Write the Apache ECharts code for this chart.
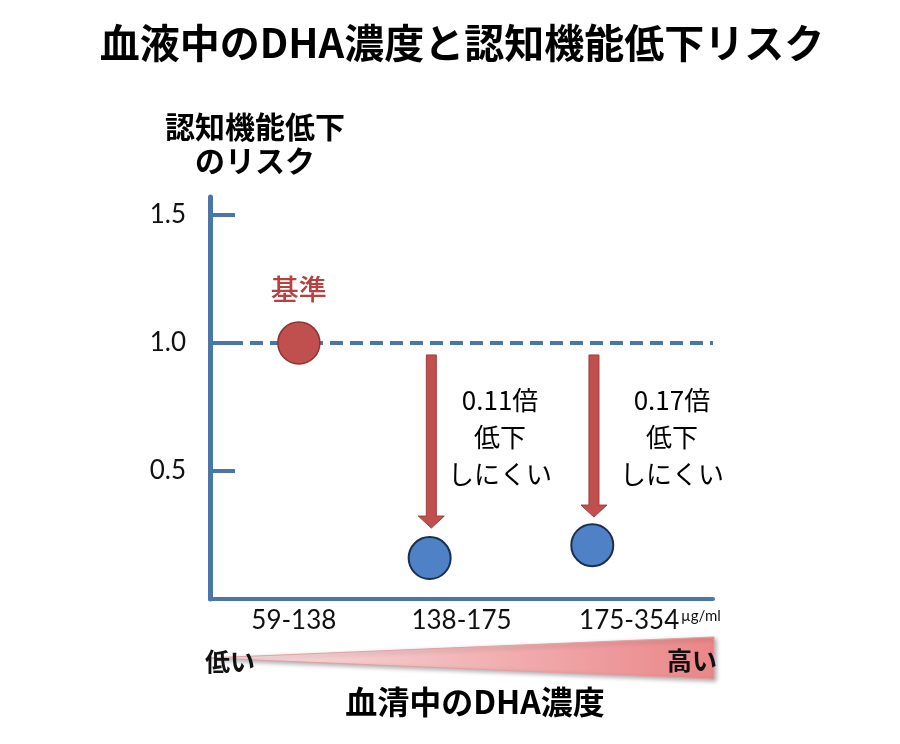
<!DOCTYPE html>
<html>
<head>
<meta charset="utf-8">
<script src="https://cdn.jsdelivr.net/npm/echarts@6/dist/echarts.min.js"></script>
<style>
html,body{margin:0;padding:0;background:#fff;}
#chart{width:900px;height:744px;}
</style>
</head>
<body>
<div id="chart"></div>
<script>
// ---- data ----
var categories = ['59-138', '138-175', '175-354'];
var yTicks = [0.5, 1.0, 1.5];
// risk points: [x position along axis (category units), relative risk]
var refPoint = [[0.53, 1.0]];
var lowRiskPoints = [[1.31, 0.16], [2.28, 0.21]];
// arrows: [x, from, to]
var arrows = [[1.32, 0.953, 0.277], [2.29, 0.953, 0.32]];
// annotation labels: [x, y]
var notePos = [[1.73, 0.633], [2.755, 0.633]];
var noteTexts = ['0.11倍\n低下\nしにくい', '0.17倍\n低下\nしにくい'];
var baseline = 1.0;

var AX = '#4a76a8';
var CJK = '"Noto Sans CJK JP", "Noto Sans", sans-serif';
var NUM = 'Lato, "Noto Sans", sans-serif';

var chart = echarts.init(document.getElementById('chart'));
var option = {
  backgroundColor: '#ffffff',
  animation: false,
  title: [
    {
      text: '血液中のDHA濃度と認知機能低下リスク',
      left: 457, top: 18, textAlign: 'center',
      textStyle: {fontFamily: CJK, fontSize: 40, fontWeight: 'bold', color: '#000'}
    },
    {
      text: '認知機能低下\nのリスク',
      left: 250, top: 105, textAlign: 'center',
      textStyle: {fontFamily: CJK, fontSize: 30, fontWeight: 'bold', color: '#000', lineHeight: 34}
    }
  ],
  grid: {left: 210, right: 187, top: 197, bottom: 145, containLabel: false},
  xAxis: [
    {
      type: 'category', data: categories, boundaryGap: true,
      axisLine: {show: true, lineStyle: {color: AX, width: 4}},
      axisTick: {show: false},
      axisLabel: {fontFamily: NUM, fontSize: 26, color: '#111', margin: 9},
      splitLine: {show: false}
    },
    {
      type: 'value', min: 0, max: 3, show: false, splitLine: {show: false}
    }
  ],
  yAxis: {
    type: 'value', min: 0, max: 1.57, interval: 0.5,
    axisLine: {show: true, lineStyle: {color: AX, width: 5}},
    axisTick: {show: true, inside: true, length: 25, lineStyle: {color: AX, width: 4}, customValues: yTicks},
    axisLabel: {
      fontFamily: NUM, fontSize: 26, color: '#111', margin: 24,
      customValues: yTicks,
      formatter: function (v) { return v.toFixed(1); }
    },
    splitLine: {show: false}
  },
  series: [
    {
      type: 'custom', name: 'arrows', xAxisIndex: 1, yAxisIndex: 0,
      data: arrows,
      renderItem: function (params, api) {
        var x = api.value(0), y0 = api.value(1), y1 = api.value(2);
        var p0 = api.coord([x, y0]), p1 = api.coord([x, y1]);
        var cx = p0[0], hw = 5, headW = 13, headH = 12;
        return {
          type: 'polygon',
          shape: {points: [
            [cx - hw, p0[1]], [cx + hw, p0[1]], [cx + hw, p1[1] - headH],
            [cx + headW, p1[1] - headH], [cx, p1[1]], [cx - headW, p1[1] - headH],
            [cx - hw, p1[1] - headH]
          ]},
          style: {fill: '#c0504d', stroke: '#a13c39', lineWidth: 1}
        };
      },
      markLine: {
        silent: true, symbol: 'none',
        lineStyle: {color: AX, width: 4, type: [13, 7]},
        label: {show: false},
        data: [{yAxis: baseline}]
      },
      z: 2
    },
    {
      type: 'scatter', name: 'ref', xAxisIndex: 1,
      data: refPoint,
      symbolSize: 42,
      itemStyle: {color: '#c0504d', borderColor: '#8b3533', borderWidth: 1.5, opacity: 1},
      label: {
        show: true, position: 'top', distance: 18,
        formatter: '基準',
        fontFamily: CJK, fontSize: 28, fontWeight: 500, color: '#b8403e'
      },
      z: 5
    },
    {
      type: 'scatter', name: 'low', xAxisIndex: 1,
      data: lowRiskPoints,
      symbolSize: 42,
      itemStyle: {color: '#4f81c7', borderColor: '#1b2f4f', borderWidth: 2, opacity: 1},
      z: 5
    },
    {
      type: 'custom', name: 'notes', xAxisIndex: 1, yAxisIndex: 0,
      data: notePos,
      renderItem: function (params, api) {
        var p = api.coord([api.value(0), api.value(1)]);
        return {
          type: 'text', x: p[0], y: p[1],
          style: {
            text: noteTexts[params.dataIndex],
            fontFamily: CJK, fontSize: 26, fill: '#000', lineHeight: 37,
            align: 'center', verticalAlign: 'middle'
          }
        };
      },
      z: 4
    }
  ],
  graphic: [
    {
      type: 'polygon', z: 1,
      shape: {points: [[208, 658], [714, 637], [714, 679]]},
      style: {
        fill: new echarts.graphic.LinearGradient(0, 0, 1, 0, [
          {offset: 0, color: '#fbe6e6'},
          {offset: 1, color: '#ea8688'}
        ]),
        stroke: '#e3a0a1', lineWidth: 1,
        shadowBlur: 4, shadowColor: 'rgba(0,0,0,0.3)', shadowOffsetX: 2, shadowOffsetY: 2
      }
    },
    {
      type: 'text', z: 10, x: 230, y: 661,
      style: {text: '低い', fontFamily: CJK, fontSize: 25, fontWeight: 'bold', fill: '#111', align: 'center', verticalAlign: 'middle'}
    },
    {
      type: 'text', z: 10, x: 692, y: 660,
      style: {text: '高い', fontFamily: CJK, fontSize: 25, fontWeight: 'bold', fill: '#111', align: 'center', verticalAlign: 'middle'}
    },
    {
      type: 'text', z: 10, x: 681, y: 616,
      style: {text: 'µg/ml', fontFamily: NUM, fontSize: 15, fill: '#111', align: 'left', verticalAlign: 'middle'}
    },
    {
      type: 'text', z: 10, x: 475, y: 702,
      style: {text: '血清中のDHA濃度', fontFamily: CJK, fontSize: 32, fontWeight: 'bold', fill: '#000', align: 'center', verticalAlign: 'middle'}
    }
  ]
};
chart.setOption(option);
</script>
</body>
</html>
